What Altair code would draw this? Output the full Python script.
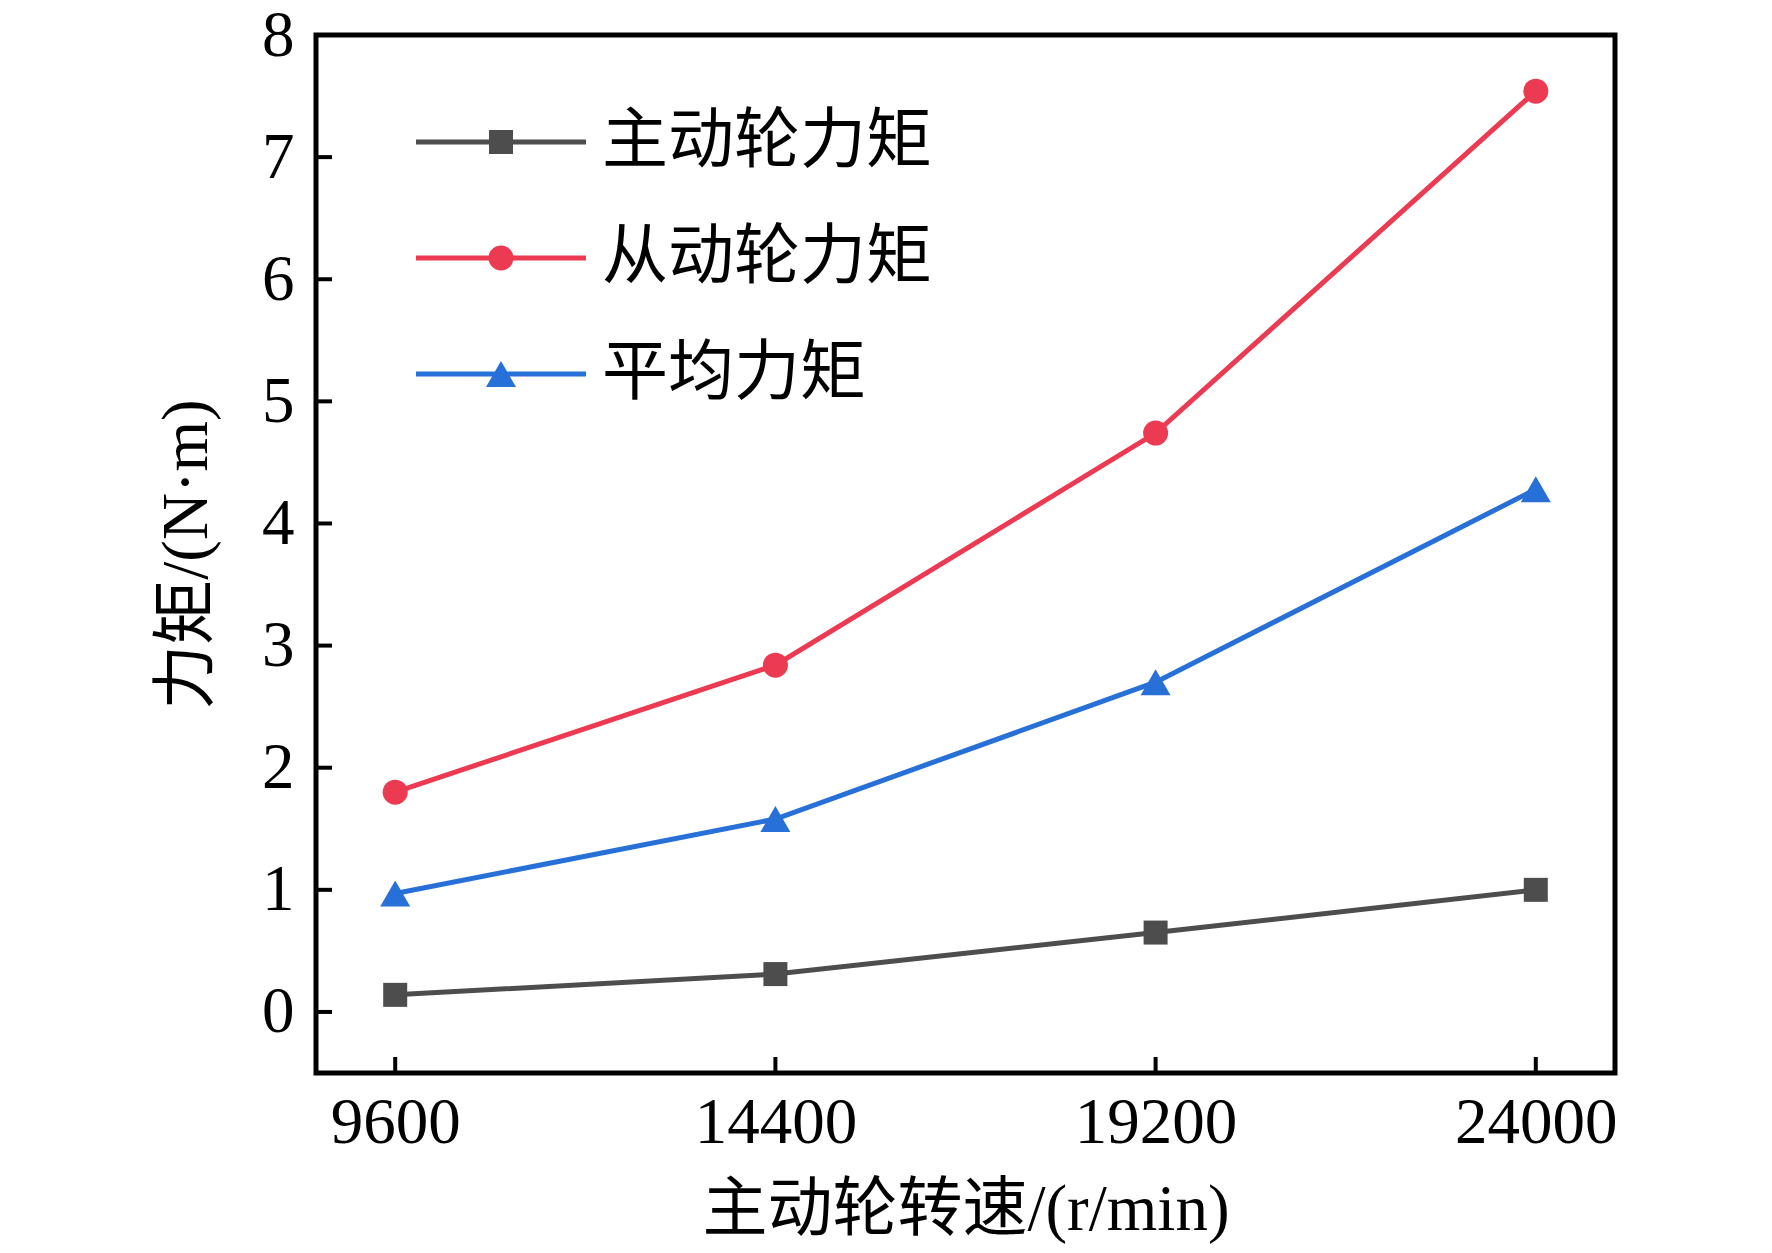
import altair as alt
import pandas as pd

# ---- data ----
speeds = [9600, 14400, 19200, 24000]
series_names = ["主动轮力矩", "从动轮力矩", "平均力矩"]
driving_torque = [0.14, 0.31, 0.65, 1.00]
driven_torque = [1.80, 2.84, 4.74, 7.54]
average_torque = [0.97, 1.58, 2.70, 4.28]
x_ticks = [9600, 14400, 19200, 24000]
y_ticks = [0, 1, 2, 3, 4, 5, 6, 7, 8]

colors = ["#4d4d4d", "#ec3a52", "#2670d8"]
marker_shapes = ["square", "circle", "triangle-up"]
marker_sizes = [576, 625, 900]

FONT = "Liberation Serif, Noto Sans CJK SC"
W, H = 1299, 1038

rows = []
for name, vals in zip(series_names, [driving_torque, driven_torque, average_torque]):
    for s, v in zip(speeds, vals):
        rows.append({"speed": s, "torque": v, "series": name})
df = pd.DataFrame(rows)

xt = pd.DataFrame({"speed": x_ticks})
yt = pd.DataFrame({"torque": y_ticks})

x_scale = alt.Scale(domain=[8600, 25000], nice=False, zero=False)
y_scale = alt.Scale(domain=[-0.5, 8], nice=False, zero=False)
color_scale = alt.Scale(domain=series_names, range=colors)

# legend symbols: a line segment with the marker in the middle
bar = "M-2.833,-0.08H2.833V0.08H-2.833Z "
legend_paths = [
    bar + "M-0.4,-0.4H0.4V0.4H-0.4Z",
    bar + "M0.417,0A0.417,0.417 0 1,1 -0.417,0A0.417,0.417 0 1,1 0.417,0Z",
    bar + "M0,-0.433L0.5,0.433L-0.5,0.433Z",
]

x_enc = alt.X(
    "speed:Q", scale=x_scale,
    axis=alt.Axis(values=x_ticks, title="主动轮转速/(r/min)", labelPadding=18,
                  titlePadding=23, format="d"),
)
y_enc = alt.Y(
    "torque:Q", scale=y_scale,
    axis=alt.Axis(values=y_ticks, title="力矩/(N·m)", labelPadding=22,
                  titlePadding=41, format="d"),
)

legend_props = dict(
    title=None, orient="none", legendX=152, legendY=74, direction="vertical",
    padding=0, symbolSize=3600, symbolStrokeWidth=0, symbolOpacity=1,
    labelFont=FONT, labelFontSize=66, labelColor="black", labelOffset=68,
    rowPadding=50, labelLimit=0,
)
# invisible marks that only carry the legend (line + marker symbols); first so its legend wins
legend_layer = alt.Chart(df).mark_point(filled=True, opacity=0).encode(
    x=x_enc, y=y_enc,
    color=alt.Color("series:N", scale=color_scale, legend=alt.Legend(**legend_props)),
    shape=alt.Shape("series:N", scale=alt.Scale(domain=series_names, range=legend_paths),
                    legend=alt.Legend(**legend_props)),
)

lines = alt.Chart(df).mark_line(strokeWidth=5).encode(
    x="speed:Q", y="torque:Q",
    color=alt.Color("series:N", scale=color_scale, legend=None),
)

point_layers = []
for name, shp, sz in zip(series_names, marker_shapes, marker_sizes):
    point_layers.append(
        alt.Chart(df).transform_filter(alt.datum.series == name)
        .mark_point(shape=shp, filled=True, size=sz, opacity=1)
        .encode(
            x="speed:Q", y="torque:Q",
            color=alt.Color("series:N", scale=color_scale, legend=None),
        )
    )

x_tick_marks = alt.Chart(xt).mark_rule(color="black", strokeWidth=4).encode(
    x="speed:Q", y=alt.value(H), y2=alt.value(H - 16)
)
y_tick_marks = alt.Chart(yt).mark_rule(color="black", strokeWidth=4).encode(
    y="torque:Q", x=alt.value(0), x2=alt.value(16)
)

chart = alt.layer(
    legend_layer, x_tick_marks, y_tick_marks, lines, *point_layers
).properties(
    width=W, height=H,
    autosize=alt.AutoSizeParams(type="none"),
    padding={"left": 308, "top": 27, "right": 140, "bottom": 176},
    background="white",
).configure_view(
    stroke="black", strokeWidth=5
).configure_axis(
    domain=False, ticks=False, tickSize=0, grid=False,
    labelFont=FONT, labelFontSize=65, labelColor="black",
    labelFlush=False, labelOverlap=False,
    titleFont=FONT, titleFontSize=65, titleFontWeight="normal", titleColor="black",
)

chart.save("out.html", embed_options={"renderer": "svg", "actions": False})
